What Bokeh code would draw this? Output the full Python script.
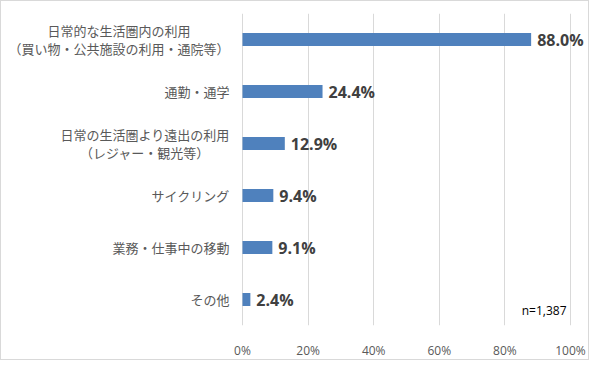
from bokeh.plotting import figure
from bokeh.models import FactorRange, Range1d, ColumnDataSource, LabelSet, FixedTicker, NumeralTickFormatter
from bokeh.core.properties import value
from bokeh.embed import file_html
from bokeh.resources import INLINE

categories = [
    "日常的な生活圏内の利用\n（買い物・公共施設の利用・通院等）",
    "通勤・通学",
    "日常の生活圏より遠出の利用\n（レジャー・観光等）",
    "サイクリング",
    "業務・仕事中の移動",
    "その他",
]
values = [88.0, 24.4, 12.9, 9.4, 9.1, 2.4]
tick_values = [0, 0.2, 0.4, 0.6, 0.8, 1.0]
note = "n=1,387"

JP = "Noto Sans CJK JP"
LAT = "Open Sans"
JP_SIZE = 13
LINE_H = 18

W, H = 589, 360
ZERO_PX = 241      # pixel position of 0 % inside the frame
SCALE_PX = 328     # pixels for 0 % .. 100 %
x_start = -ZERO_PX / SCALE_PX
x_end = x_start + W / SCALE_PX

p = figure(width=W, height=H,
           y_range=FactorRange(factors=list(reversed(categories))),
           x_range=Range1d(x_start, x_end),
           output_backend="svg", toolbar_location=None,
           min_border_left=0, min_border_right=0,
           min_border_top=12, min_border_bottom=24)
p.styles = {"border": "1px solid #d9d9d9"}

src = ColumnDataSource(dict(
    cat=categories,
    val=[v / 100 for v in values],
    txt=[f"{v:.1f}%" for v in values],
))
p.hbar(y="cat", right="val", left=0, height=0.25, source=src,
       fill_color="#4f81bd", line_color=None)

p.add_layout(LabelSet(x="val", y="cat", text="txt", source=src,
                      x_offset=6, text_baseline="middle", text_align="left",
                      text_font=value(LAT), text_font_size=value("16px"),
                      text_font_style="bold", text_color="#404040"))

# category labels
single = dict(y=[], text=[])
multi = dict(y=[], text=[], xo=[], yo=[])
for cat in categories:
    lines = cat.split("\n")
    if len(lines) == 1:
        single["y"].append(cat)
        single["text"].append(cat)
    else:
        w = max(len(l) for l in lines) * JP_SIZE
        n = len(lines)
        for i, l in enumerate(lines):
            multi["y"].append(cat)
            multi["text"].append(l)
            multi["xo"].append(-13 - w / 2)
            multi["yo"].append(((n - 1) / 2 - i) * LINE_H)
single["x"] = [0] * len(single["y"])
multi["x"] = [0] * len(multi["y"])

p.add_layout(LabelSet(x="x", y="y", text="text", source=ColumnDataSource(single),
                      x_offset=-13, text_align="right", text_baseline="middle",
                      text_font=value(JP), text_font_size=value(f"{JP_SIZE}px"),
                      text_color="#595959"))
p.add_layout(LabelSet(x="x", y="y", text="text", source=ColumnDataSource(multi),
                      x_offset="xo", y_offset="yo", text_align="center", text_baseline="middle",
                      text_font=value(JP), text_font_size=value(f"{JP_SIZE}px"),
                      text_color="#595959"))

note_src = ColumnDataSource(dict(x=[1.0], y=[categories[-1]], text=[note]))
p.add_layout(LabelSet(x="x", y="y", text="text", source=note_src,
                      x_offset=-4, y_offset=-11, text_align="right", text_baseline="middle",
                      text_font=value(LAT), text_font_size=value("12px"), text_color="#000000",
                      background_fill_color="white", background_fill_alpha=1.0))

p.yaxis.visible = False
p.ygrid.grid_line_color = None
p.xgrid.grid_line_color = "#d9d9d9"
p.xgrid.ticker = FixedTicker(ticks=tick_values)
p.xaxis.ticker = FixedTicker(ticks=tick_values)
p.xaxis.formatter = NumeralTickFormatter(format="0%")
p.xaxis.axis_line_color = None
p.xaxis.major_tick_line_color = None
p.xaxis.minor_tick_line_color = None
p.xaxis.major_label_standoff = 10
p.xaxis.major_label_text_font = LAT
p.xaxis.major_label_text_font_size = "12px"
p.xaxis.major_label_text_color = "#595959"
p.outline_line_color = None
p.background_fill_color = "white"
p.border_fill_color = "white"

open("out.html", "w").write(file_html(p, INLINE))
